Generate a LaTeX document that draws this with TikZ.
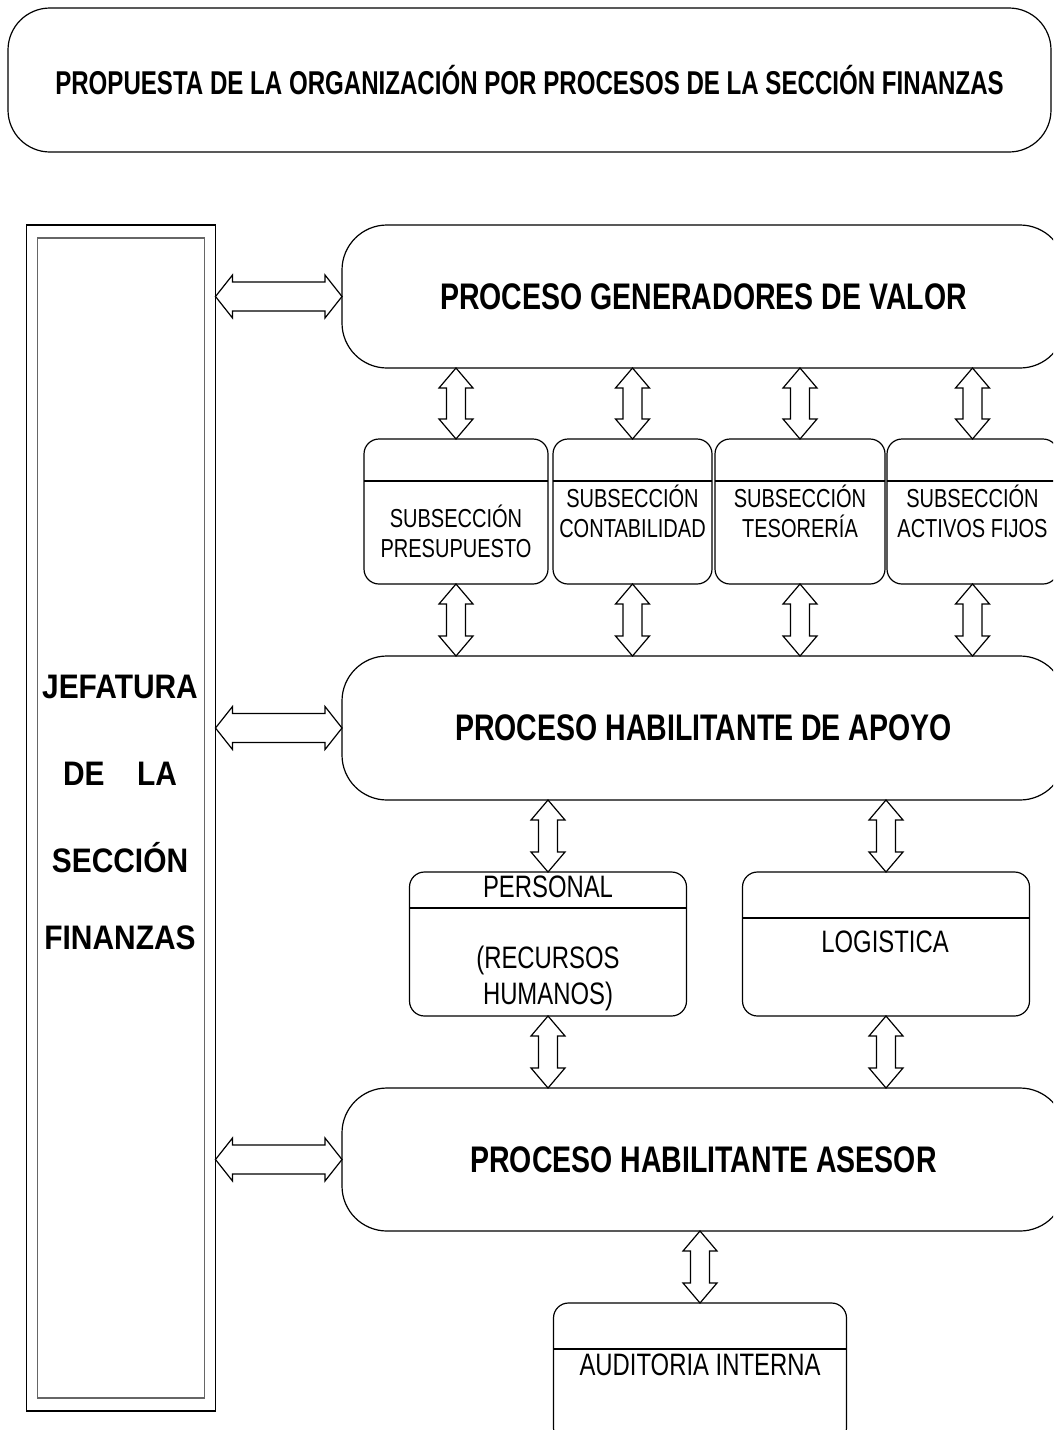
\documentclass[tikz,border=0pt]{standalone}
\usepackage{fontspec}
\setmainfont{Liberation Sans}
\newfontfamily\narrowsans[FakeStretch=0.77]{Liberation Sans}
\newfontfamily\titlesans[FakeStretch=0.73]{Liberation Sans}
\newfontfamily\jefsans[FakeStretch=0.88]{Liberation Sans}
\usepackage{tikz}
\usetikzlibrary{calc}

\begin{document}
\begin{tikzpicture}[
    x=1pt, y=-1pt,
    line width=1.2pt,
    roundbox/.style={rectangle, draw, rounded corners=#1, inner sep=0pt,
                     outer sep=0pt},
    roundbox/.default=15pt,
    bigtxt/.style={font=\narrowsans\bfseries\fontsize{37}{42}\selectfont},
    jeftxt/.style={font=\jefsans\bfseries\fontsize{34}{40}\selectfont},
    subtxt/.style={font=\narrowsans\fontsize{26}{30}\selectfont, align=center},
    unittxt/.style={font=\narrowsans\fontsize{31}{36}\selectfont, align=center},
    harr/.style={fill=white, to path={
        -- ($(\tikztostart)+(17,-21.5)$) -- ($(\tikztostart)+(17,-14.5)$)
        -- ($(\tikztotarget)+(-17,-14.5)$) -- ($(\tikztotarget)+(-17,-21.5)$)
        -- (\tikztotarget)
        -- ($(\tikztotarget)+(-17,21.5)$) -- ($(\tikztotarget)+(-17,14.5)$)
        -- ($(\tikztostart)+(17,14.5)$) -- ($(\tikztostart)+(17,21.5)$)
        -- cycle}},
    varr/.style={fill=white, to path={
        -- ($(\tikztostart)+(17,20)$) -- ($(\tikztostart)+(9.5,20)$)
        -- ($(\tikztotarget)+(9.5,-20)$) -- ($(\tikztotarget)+(17,-20)$)
        -- (\tikztotarget)
        -- ($(\tikztotarget)+(-17,-20)$) -- ($(\tikztotarget)+(-9.5,-20)$)
        -- ($(\tikztostart)+(-9.5,20)$) -- ($(\tikztostart)+(-17,20)$)
        -- cycle}}
]
\useasboundingbox (0,0) rectangle (1053,1430);
\clip (0,0) rectangle (1053,1430);

% Title
\node[roundbox=42pt, minimum width=1043pt, minimum height=144pt,
      font=\titlesans\bfseries\fontsize{33}{38}\selectfont]
  (title) at (529.5,80)
  {PROPUESTA DE LA ORGANIZACIÓN POR PROCESOS DE LA SECCIÓN FINANZAS};

% Jefatura
\node[draw, minimum width=189pt, minimum height=1186pt, inner sep=0pt,
      outer sep=0pt] (jef) at (121,818) {};
\draw[black!60] ([shift={(11,13)}]jef.north west)
  rectangle ([shift={(-11,-13)}]jef.south east);
\node[jeftxt] (jf1) at (120,687) {JEFATURA};
\node[jeftxt] (jf2) at (120,774) {\makebox[114pt][s]{DE LA}};
\node[jeftxt] (jf3) at (120,858) {SECCIÓN};
\node[jeftxt] (jf4) at (120,938) {FINANZAS};

% Processes
\node[roundbox=45pt, minimum width=723pt, minimum height=143pt, bigtxt]
  (p1) at (703.5,296.5) {PROCESO GENERADORES DE VALOR};
\node[roundbox=45pt, minimum width=723pt, minimum height=144pt, bigtxt]
  (p2) at (703.5,728) {PROCESO HABILITANTE DE APOYO};
\node[roundbox=45pt, minimum width=723pt, minimum height=143pt, bigtxt]
  (p3) at (703.5,1159.5) {PROCESO HABILITANTE ASESOR};

% Subsections
\node[roundbox, minimum width=184pt, minimum height=145pt] (s1) at (456,511.5) {};
\node[roundbox, minimum width=159pt, minimum height=145pt, subtxt]
  (s2) at (632.5,511.5) {SUBSECCIÓN\\CONTABILIDAD};
\node[roundbox, minimum width=170pt, minimum height=145pt, subtxt]
  (s3) at (800,511.5) {SUBSECCIÓN\\TESORERÍA};
\node[roundbox, minimum width=171pt, minimum height=145pt, subtxt]
  (s4) at (972.5,511.5) {SUBSECCIÓN\\ACTIVOS FIJOS};
\node[subtxt] (s1t) at (456,531) {SUBSECCIÓN\\PRESUPUESTO};
\draw ([yshift=-42pt]s1.north west) -- ([yshift=-42pt]s1.north east);
\draw ([yshift=-42pt]s2.north west) -- ([yshift=-42pt]s2.north east);
\draw ([yshift=-42pt]s3.north west) -- ([yshift=-42pt]s3.north east);
\draw ([yshift=-42pt]s4.north west) -- ([yshift=-42pt]s4.north east);

% Personal and logistica
\node[roundbox, minimum width=277pt, minimum height=144pt] (per) at (548,944) {};
\node[roundbox, minimum width=287pt, minimum height=144pt] (log) at (886,944) {};
\draw ([yshift=-36pt]per.north west) -- ([yshift=-36pt]per.north east);
\draw ([yshift=-46pt]log.north west) -- ([yshift=-46pt]log.north east);
\node[unittxt] (pert) at (548,887) {PERSONAL};
\node[unittxt] (pert2) at (548,978) {(RECURSOS\\HUMANOS)};
\node[unittxt] (logt) at (885,942) {LOGISTICA};

% Auditoria
\node[roundbox, minimum width=293pt, minimum height=140pt] (aud) at (700,1373) {};
\draw ([yshift=-46pt]aud.north west) -- ([yshift=-46pt]aud.north east);
\node[unittxt] (audt) at (700,1365) {AUDITORIA INTERNA};

% Connectors
\draw[harr] (jef.east |- p1.west) to (p1.west);
\draw[harr] (jef.east |- p2.west) to (p2.west);
\draw[harr] (jef.east |- p3.west) to (p3.west);

\draw[varr] (p1.south -| s1.north) to (s1.north);
\draw[varr] (p1.south -| s2.north) to (s2.north);
\draw[varr] (p1.south -| s3.north) to (s3.north);
\draw[varr] (p1.south -| s4.north) to (s4.north);
\draw[varr] (s1.south) to (p2.north -| s1.south);
\draw[varr] (s2.south) to (p2.north -| s2.south);
\draw[varr] (s3.south) to (p2.north -| s3.south);
\draw[varr] (s4.south) to (p2.north -| s4.south);

\draw[varr] (p2.south -| per.north) to (per.north);
\draw[varr] (p2.south -| log.north) to (log.north);
\draw[varr] (per.south) to (p3.north -| per.south);
\draw[varr] (log.south) to (p3.north -| log.south);

\draw[varr] (p3.south -| aud.north) to (aud.north);
\end{tikzpicture}
\end{document}
